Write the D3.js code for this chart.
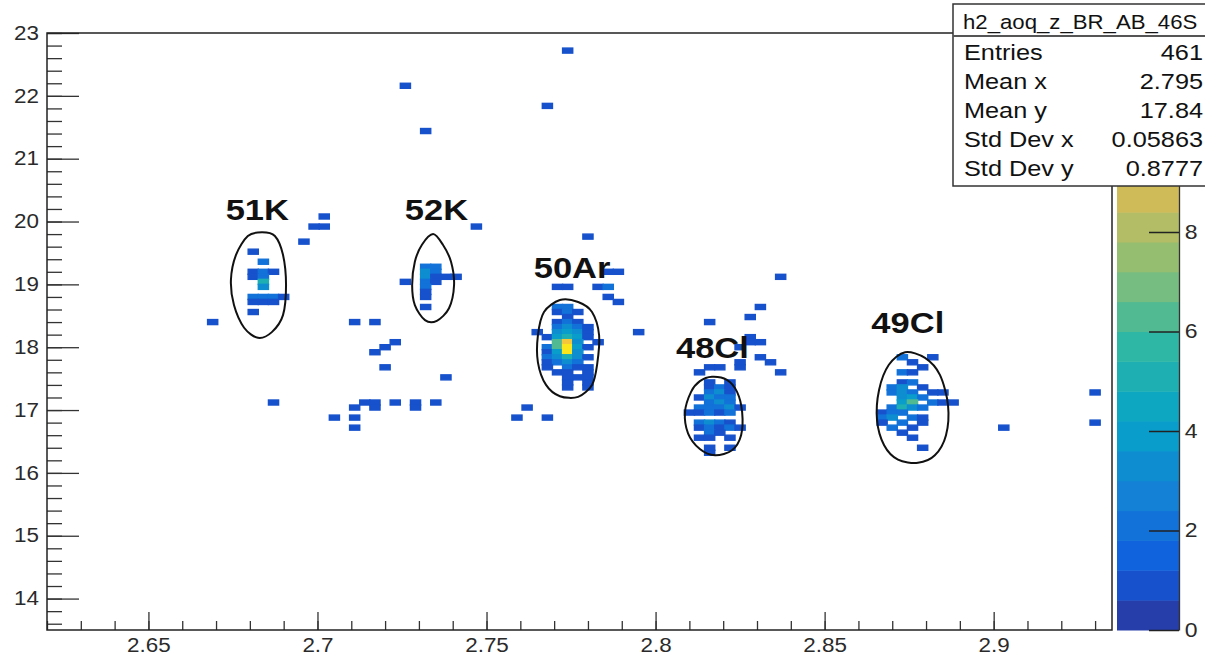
<!DOCTYPE html>
<html>
<head>
<meta charset="utf-8">
<script src="https://cdn.jsdelivr.net/npm/d3@7"></script>
<style>
  body { margin: 0; background: #fff; }
  svg text { font-family: "Liberation Sans", Arial, sans-serif; }
</style>
</head>
<body>
<script>
// ---------- data ----------
const histTitle = "h2_aoq_z_BR_AB_46S";
const statNames = ["Entries", "Mean x", "Mean y", "Std Dev x", "Std Dev y"];
const statValues = ["461", "2.795", "17.84", "0.05863", "0.8777"];

const xMajorTicks = [2.65, 2.7, 2.75, 2.8, 2.85, 2.9];
const xTickLabels = ["2.65", "2.7", "2.75", "2.8", "2.85", "2.9"];
const yMajorTicks = [14, 15, 16, 17, 18, 19, 20, 21, 22, 23];
const zTicks = [0, 2, 4, 6, 8];   // 10 and 12 sit under the stats box

// isotope labels (anchor = middle / baseline, data coords)
const isoNames = ["51K", "52K", "50Ar", "48Cl", "49Cl"];
const isoLabelX = [2.6822, 2.7352, 2.7753, 2.8168, 2.8746];
const isoLabelY = [20.02, 20.02, 19.10, 17.83, 18.23];

// graphical cuts (aoq, z)
const cutK51 = [[2.6836,19.83],[2.6874,19.77],[2.6898,19.47],[2.6907,18.99],[2.6898,18.51],[2.6865,18.24],[2.6824,18.15],[2.6783,18.31],[2.6753,18.67],[2.6744,19.07],[2.6759,19.47],[2.6794,19.77]];
const cutK52 = [[2.7342,19.80],[2.7371,19.63],[2.7395,19.36],[2.7404,18.99],[2.7389,18.62],[2.7353,18.42],[2.7318,18.43],[2.7288,18.67],[2.7280,18.99],[2.7288,19.36],[2.7309,19.63]];
const cutAr50 = [[2.7717,18.75],[2.7771,18.72],[2.7812,18.56],[2.7833,18.19],[2.7827,17.72],[2.7812,17.40],[2.7771,17.21],[2.7717,17.22],[2.7676,17.40],[2.7652,17.76],[2.7652,18.19],[2.7670,18.56]];
const cutCl48 = [[2.8167,17.53],[2.8211,17.48],[2.8241,17.29],[2.8256,16.97],[2.8253,16.60],[2.8226,16.36],[2.8176,16.28],[2.8131,16.38],[2.8096,16.63],[2.8087,16.97],[2.8105,17.29],[2.8131,17.46]];
const cutCl49 = [[2.8738,17.92],[2.8797,17.83],[2.8841,17.56],[2.8865,17.08],[2.8859,16.60],[2.8826,16.28],[2.8776,16.16],[2.8717,16.21],[2.8676,16.44],[2.8655,16.84],[2.8661,17.32],[2.8690,17.72]];

// histogram entries [aoq, z, counts]
const scatterCells = [
  [2.774,22.72,1],[2.768,21.84,1],[2.726,22.16,1],[2.732,21.44,1],
  [2.702,20.08,1],[2.699,19.92,1],[2.702,19.92,1],[2.696,19.68,1],
  [2.747,19.92,1],[2.780,19.76,1],
  [2.669,18.40,1],[2.687,17.12,1],
  [2.711,18.40,1],[2.717,18.40,1],
  [2.717,17.92,1],[2.720,18.00,1],[2.723,18.08,1],[2.720,17.68,1],[2.738,17.52,1],
  [2.723,17.12,1],[2.729,17.12,1],[2.729,17.04,1],[2.735,17.12,1],
  [2.717,17.12,1],[2.717,17.04,1],[2.714,17.12,1],[2.711,17.04,1],
  [2.711,16.88,1],[2.711,16.72,1],[2.705,16.88,1],
  [2.759,16.88,1],[2.762,17.04,1],[2.768,16.88,1],
  [2.771,18.96,1],[2.774,18.96,1],[2.786,19.20,1],[2.789,19.20,1],
  [2.783,18.96,1],[2.786,18.96,2],[2.786,18.80,1],[2.789,18.72,1],[2.795,18.24,1],
  [2.837,19.12,1],[2.831,18.64,1],[2.828,18.48,1],[2.816,18.40,1],
  [2.828,18.16,1],[2.828,18.08,1],[2.831,18.08,1],[2.825,18.00,1],
  [2.831,17.84,1],[2.834,17.76,1],[2.825,17.76,1],[2.825,17.68,1],
  [2.816,17.68,1],[2.819,17.68,1],[2.813,17.60,1],[2.837,17.60,1],
  [2.903,16.72,1],[2.930,17.28,1],[2.930,16.80,1]
];
const cellsK51 = [
  [2.681,19.52,1],
  [2.684,19.36,2],
  [2.681,19.20,1],[2.684,19.20,2],[2.687,19.20,1],
  [2.681,19.12,1],[2.684,19.12,2],
  [2.684,19.04,5],
  [2.684,18.96,3],
  [2.681,18.80,2],[2.684,18.80,2],[2.687,18.80,2],[2.690,18.80,1],
  [2.681,18.72,1],[2.684,18.72,1],[2.687,18.72,1],
  [2.681,18.56,1]
];
const cellsK52 = [
  [2.732,19.28,2],[2.735,19.28,2],
  [2.732,19.20,3],[2.735,19.20,2],
  [2.732,19.12,3],[2.735,19.12,1],[2.738,19.12,1],[2.741,19.12,1],
  [2.726,19.04,1],[2.732,19.04,2],[2.735,19.04,1],
  [2.732,18.96,2],
  [2.732,18.88,1],
  [2.732,18.80,1],
  [2.732,18.64,1]
];
const cellsAr50 = [
  [2.771,18.64,2],[2.774,18.64,2],
  [2.771,18.56,1],[2.774,18.56,2],[2.777,18.56,1],
  [2.774,18.48,1],
  [2.771,18.40,1],[2.774,18.40,2],[2.777,18.40,1],
  [2.771,18.32,2],[2.774,18.32,3],[2.777,18.32,2],[2.780,18.32,1],
  [2.765,18.24,1],[2.771,18.24,3],[2.774,18.24,4],[2.777,18.24,3],[2.780,18.24,1],
  [2.768,18.16,1],[2.771,18.16,4],[2.774,18.16,5],[2.777,18.16,4],[2.780,18.16,1],
  [2.771,18.08,6],[2.774,18.08,10],[2.777,18.08,3],[2.783,18.08,1],
  [2.768,18.00,2],[2.771,18.00,6],[2.774,18.00,11],[2.777,18.00,4],[2.780,18.00,1],
  [2.768,17.92,1],[2.771,17.92,4],[2.774,17.92,11],[2.777,17.92,3],
  [2.768,17.84,2],[2.771,17.84,3],[2.774,17.84,5],[2.777,17.84,3],[2.780,17.84,1],
  [2.768,17.76,1],[2.771,17.76,2],[2.774,17.76,3],[2.777,17.76,2],
  [2.768,17.68,1],[2.774,17.68,2],[2.777,17.68,1],[2.780,17.68,1],
  [2.771,17.60,1],[2.774,17.60,1],[2.780,17.60,1],
  [2.774,17.52,1],[2.777,17.52,1],[2.780,17.52,1],
  [2.774,17.44,1],[2.780,17.44,1],
  [2.774,17.36,1],[2.780,17.36,1]
];
const cellsCl48 = [
  [2.816,17.44,1],[2.822,17.44,1],
  [2.816,17.36,1],[2.819,17.36,2],[2.822,17.36,1],
  [2.816,17.28,2],[2.819,17.28,3],[2.822,17.28,1],
  [2.813,17.20,1],[2.816,17.20,3],[2.819,17.20,2],[2.822,17.20,2],
  [2.816,17.12,2],[2.819,17.12,3],[2.822,17.12,2],
  [2.813,17.04,2],[2.816,17.04,2],[2.819,17.04,2],[2.822,17.04,3],[2.825,17.04,1],
  [2.810,16.96,1],[2.813,16.96,1],[2.816,16.96,2],[2.819,16.96,1],[2.822,16.96,2],
  [2.813,16.80,2],[2.816,16.80,3],[2.819,16.80,2],[2.822,16.80,1],
  [2.813,16.72,1],[2.816,16.72,2],[2.819,16.72,1],[2.822,16.72,2],[2.825,16.72,1],
  [2.816,16.64,2],[2.819,16.64,1],
  [2.813,16.56,1],[2.816,16.56,1],[2.822,16.56,1],
  [2.816,16.40,1],[2.822,16.40,1],
  [2.816,16.32,1]
];
const cellsCl49 = [
  [2.873,17.84,2],[2.882,17.84,1],
  [2.876,17.76,1],
  [2.879,17.68,1],
  [2.873,17.60,2],[2.876,17.60,1],
  [2.873,17.44,1],[2.876,17.44,2],
  [2.870,17.36,2],[2.873,17.36,3],[2.879,17.36,1],
  [2.870,17.28,2],[2.873,17.28,3],[2.876,17.28,2],[2.882,17.28,1],[2.885,17.28,1],
  [2.873,17.20,3],[2.876,17.20,4],[2.879,17.20,2],
  [2.873,17.12,4],[2.876,17.12,6],[2.882,17.12,2],[2.885,17.12,1],[2.888,17.12,1],
  [2.870,17.04,2],[2.873,17.04,5],[2.876,17.04,3],[2.879,17.04,2],
  [2.867,16.96,1],[2.870,16.96,2],[2.873,16.96,2],
  [2.867,16.88,2],[2.870,16.88,3],[2.876,16.88,2],[2.879,16.88,1],
  [2.867,16.80,1],[2.873,16.80,2],[2.879,16.80,1],
  [2.870,16.72,2],[2.876,16.72,1],
  [2.873,16.64,1],
  [2.876,16.56,1],
  [2.879,16.40,1]
];

// ---------- layout ----------
const W = 1205, H = 661;
const frame = { left: 47, right: 1112, top: 33, bottom: 630 };
const pal = { left: 1117, right: 1179 };
const xDomain = [2.62, 2.935], yDomain = [13.5, 23], zDomain = [0, 12];
const nContours = 20;
const textStretch = 1.15;
const xBin = { origin: 2.0015, width: 0.003 };
const yBin = { origin: 10.04, width: 0.08 };

const svg = d3.select("body").append("svg").attr("width", W).attr("height", H);

const x = d3.scaleLinear().domain(xDomain).range([frame.left, frame.right]);
const y = d3.scaleLinear().domain(yDomain).range([frame.bottom, frame.top]);
const z = d3.scaleLinear().domain(zDomain).range([frame.bottom, frame.top]);

// ROOT kBird palette
const birdStops = [0, 0.125, 0.25, 0.375, 0.5, 0.625, 0.75, 0.875, 1];
const birdR = [0.2082, 0.0592, 0.0780, 0.0232, 0.1802, 0.5301, 0.8186, 0.9956, 0.9764];
const birdG = [0.1664, 0.3599, 0.5041, 0.6419, 0.7178, 0.7492, 0.7328, 0.7862, 0.9832];
const birdB = [0.5293, 0.8684, 0.8385, 0.7914, 0.6425, 0.4662, 0.3499, 0.1968, 0.0539];
const bird = d3.scaleLinear()
  .domain(birdStops)
  .range(birdStops.map((s, i) => d3.rgb(birdR[i] * 255, birdG[i] * 255, birdB[i] * 255)))
  .interpolate(d3.interpolateRgb);
const bandWidth = (zDomain[1] - zDomain[0]) / nContours;
function bandColor(i) { return bird((i + 0.99) / nContours); }
function cellColor(v) { return bandColor(Math.min(nContours - 1, Math.floor(v / bandWidth))); }

// fill the 2D histogram
function fillHist(lists) {
  const bins = new Map();
  lists.forEach(list => list.forEach(([ax, az, w]) => {
    const i = Math.floor((ax - xBin.origin) / xBin.width);
    const j = Math.floor((az - yBin.origin) / yBin.width);
    const key = i + "," + j;
    if (!bins.has(key)) bins.set(key, { x0: xBin.origin + i * xBin.width, y0: yBin.origin + j * yBin.width, n: 0 });
    bins.get(key).n += w;
  }));
  return Array.from(bins.values());
}
const hist = fillHist([scatterCells, cellsK51, cellsK52, cellsAr50, cellsCl48, cellsCl49]);
console.log('entries drawn', d3.sum(hist, d => d.n));

svg.append("defs").append("clipPath").attr("id", "frameClip")
  .append("rect")
  .attr("x", frame.left).attr("y", frame.top)
  .attr("width", frame.right - frame.left).attr("height", frame.bottom - frame.top);

// cells: a thin stroke in the same colour mimics the soft edges of the original
svg.append("g").attr("clip-path", "url(#frameClip)")
  .selectAll("rect").data(hist).join("rect")
  .attr("x", d => x(d.x0))
  .attr("width", d => x(d.x0 + xBin.width) - x(d.x0))
  .attr("y", d => y(d.y0 + yBin.width))
  .attr("height", d => y(d.y0) - y(d.y0 + yBin.width))
  .attr("fill", d => cellColor(d.n))
  .attr("stroke", d => cellColor(d.n))
  .attr("stroke-width", 1.4);

// cuts
const cutLine = d3.line().x(d => x(d[0])).y(d => y(d[1])).curve(d3.curveCardinalClosed.tension(0.1));
svg.append("g").selectAll("path")
  .data([cutK51, cutK52, cutAr50, cutCl48, cutCl49]).join("path")
  .attr("d", cutLine)
  .attr("fill", "none")
  .attr("stroke", "#111")
  .attr("stroke-width", 2);

// ---------- axes ----------
function styleAxis(g) {
  g.select(".domain").remove();
  g.selectAll(".tick line").attr("stroke", "#333").attr("stroke-width", 1.3);
  g.selectAll("text")
    .attr("fill", "#2a2a2a")
    .attr("font-size", 19.5)
    .attr("font-family", '"Liberation Sans", Arial, sans-serif')
    .attr("transform", `scale(${textStretch},1)`);
}

const xMinor = d3.range(262, 294).map(k => k / 100);
const yMinor = d3.range(68, 116).map(k => k / 5);

svg.append("g").attr("transform", `translate(0,${frame.bottom})`)
  .call(d3.axisBottom(x).tickValues(xMinor).tickSize(-9).tickFormat(""))
  .call(styleAxis);
svg.append("g").attr("transform", `translate(0,${frame.bottom})`)
  .call(d3.axisBottom(x).tickValues(xMajorTicks).tickSize(-18).tickPadding(8)
    .tickFormat((d, i) => xTickLabels[i]))
  .call(styleAxis);

svg.append("g").attr("transform", `translate(${frame.left},0)`)
  .call(d3.axisLeft(y).tickValues(yMinor).tickSize(-15).tickFormat(""))
  .call(styleAxis);
svg.append("g").attr("transform", `translate(${frame.left},0)`)
  .call(d3.axisLeft(y).tickValues(yMajorTicks).tickSize(-32).tickPadding(7).tickFormat(d3.format("d")))
  .call(styleAxis);

svg.append("rect")
  .attr("x", frame.left).attr("y", frame.top)
  .attr("width", frame.right - frame.left).attr("height", frame.bottom - frame.top)
  .attr("fill", "none").attr("stroke", "#222").attr("stroke-width", 1.5);

// ---------- colour palette ----------
svg.append("g").selectAll("rect")
  .data(d3.range(nContours)).join("rect")
  .attr("x", pal.left)
  .attr("width", pal.right - pal.left)
  .attr("y", i => z((i + 1) * bandWidth))
  .attr("height", i => z(i * bandWidth) - z((i + 1) * bandWidth) + 0.5)
  .attr("fill", i => bandColor(i));

svg.append("g").attr("transform", `translate(${pal.right},0)`)
  .call(d3.axisRight(z).tickValues(zTicks).tickSize(-30).tickSizeOuter(0).tickPadding(5).tickFormat(d3.format("d")))
  .call(g => {
    g.select(".domain").attr("stroke", "#333").attr("stroke-width", 1.3);
    g.selectAll(".tick line").attr("stroke", "#222").attr("stroke-width", 1.5);
    g.selectAll("text")
      .attr("fill", "#2a2a2a")
      .attr("font-size", 20)
      .attr("font-family", '"Liberation Sans", Arial, sans-serif')
      .attr("transform", `scale(${textStretch},1)`);
  });

// ---------- isotope labels ----------
svg.append("g").selectAll("text")
  .data(isoNames).join("text")
  .attr("transform", (d, i) => `translate(${x(isoLabelX[i])},${y(isoLabelY[i])}) scale(${textStretch},1)`)
  .attr("text-anchor", "middle")
  .attr("font-size", 30)
  .attr("font-weight", "bold")
  .attr("fill", "#111")
  .text(d => d);

// ---------- stats box ----------
const box = { left: 953, top: 4, width: 262, titleBottom: 36, bottom: 186, rowStep: 29 };
const stats = svg.append("g");
stats.append("rect")
  .attr("x", box.left).attr("y", box.top)
  .attr("width", box.width).attr("height", box.bottom - box.top)
  .attr("fill", "#fff").attr("stroke", "#333").attr("stroke-width", 1.5);
stats.append("line")
  .attr("x1", box.left).attr("x2", box.left + box.width)
  .attr("y1", box.titleBottom).attr("y2", box.titleBottom)
  .attr("stroke", "#555").attr("stroke-width", 2);
stats.append("text")
  .attr("transform", `translate(${box.left + 10},29) scale(${textStretch},1)`)
  .attr("font-size", 19.3)
  .attr("fill", "#111")
  .text(histTitle);
stats.selectAll("text.name")
  .data(statNames).join("text").attr("class", "name")
  .attr("transform", (d, i) => `translate(${box.left + 11},${60 + i * box.rowStep}) scale(${textStretch},1)`)
  .attr("font-size", 22)
  .attr("fill", "#111")
  .text(d => d);
stats.selectAll("text.val")
  .data(statValues).join("text").attr("class", "val")
  .attr("transform", (d, i) => `translate(${W - 2},${60 + i * box.rowStep}) scale(${textStretch},1)`)
  .attr("text-anchor", "end")
  .attr("font-size", 22)
  .attr("fill", "#111")
  .text(d => d);
</script>
</body>
</html>
